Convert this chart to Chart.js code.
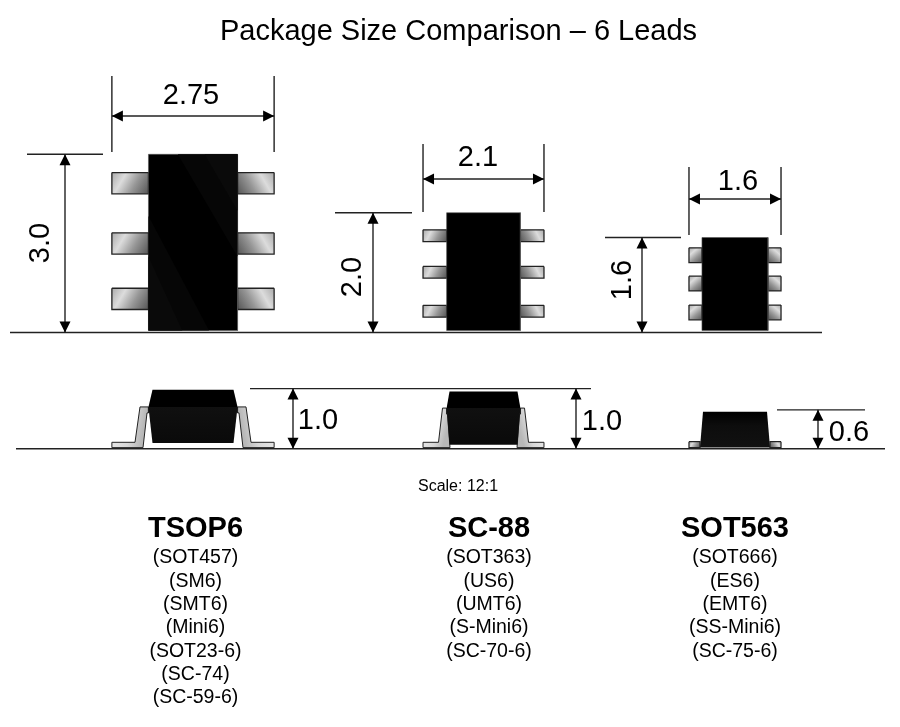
<!DOCTYPE html>
<html>
<head>
<meta charset="utf-8">
<title>Package Size Comparison</title>
<script src="https://cdn.jsdelivr.net/npm/chart.js@4/dist/chart.umd.min.js"></script>
<style>
  html, body { margin: 0; padding: 0; background: #fff; }
  canvas { display: block; }
</style>
</head>
<body>
<canvas id="chart" width="900" height="727"></canvas>
<script>
// Values, all in mm
const chartTitle = 'Package Size Comparison – 6 Leads';
const scaleNote = 'Scale: 12:1';
const packageNames = ['TSOP6', 'SC-88', 'SOT563'];
const tsop6Aliases = ['(SOT457)', '(SM6)', '(SMT6)', '(Mini6)', '(SOT23-6)', '(SC-74)', '(SC-59-6)'];
const sc88Aliases = ['(SOT363)', '(US6)', '(UMT6)', '(S-Mini6)', '(SC-70-6)'];
const sot563Aliases = ['(SOT666)', '(ES6)', '(EMT6)', '(SS-Mini6)', '(SC-75-6)'];
const widthLabels = ['2.75', '2.1', '1.6'];
const lengthLabels = ['3.0', '2.0', '1.6'];
const heightLabels = ['1.0', '1.0', '0.6'];
const leadSpan = [2.75, 2.05, 1.56];
const bodyLength = [3.02, 2.03, 1.61];
const bodyWidth = [1.51, 1.25, 1.12];
const seatedHeight = [1.02, 1.02, 0.66];
const leadWidth = [0.36, 0.2, 0.25];
const tsop6LeadCentres = [2.53, 1.51, 0.57];
const sc88LeadCentres = [1.64, 1.02, 0.36];
const sot563LeadCentres = [1.31, 0.83, 0.34];

const aliases = [tsop6Aliases, sc88Aliases, sot563Aliases];
const leadCentres = [tsop6LeadCentres, sc88LeadCentres, sot563LeadCentres];

// Page layout, in picture pixels
const PX_PER_MM = 59;
const TOP_BASE = 332.5;
const SIDE_BASE = 448.8;
const centreX = [193, 483.5, 735];
const widthDimY = [116, 179, 199];
const widthExt = [[76, 152], [144, 212], [167, 235]];
const lengthDimX = [65, 373, 642];
const lengthExt = [[27, 103], [335, 412], [605, 681]];
const heightDimX = [293, 576, 818];
const heightExt = [[250, 591], [250, 591], [777, 865]];
const widthLabelPos = [[191, 96], [478, 157.5], [738, 181.5]];
const lengthLabelPos = [[41, 243], [353, 277], [623, 280]];
const heightLabelPos = [[318, 420.5], [602, 421.5], [849, 432.5]];
const nameX = [195.5, 489, 735];

const INK = '#222';
const toX = (px) => px / PX_PER_MM;
const toY = (py) => (TOP_BASE - py) / PX_PER_MM;
const sideY = (mm) => toY(SIDE_BASE) + mm;
const mm = (px) => px / PX_PER_MM;

const datasets = [];

function addPoly(points, fill, stroke, width) {
  const closed = fill ? points.concat([points[0]]) : points;
  datasets.push({
    data: closed.map(([x, y]) => ({ x, y })),
    showLine: true,
    pointRadius: 0,
    tension: 0,
    fill: fill ? 'shape' : false,
    backgroundColor: fill || 'transparent',
    borderColor: stroke || 'transparent',
    borderWidth: stroke ? (width || 1) : 0,
  });
}

// Shaded metal of a lead: light near the outer top corner, dark toward the body
function leadGradient(x0, y0, x1, y1, stops) {
  return (ctx) => {
    const { x, y } = ctx.chart.scales;
    const px0 = x.getPixelForValue(x0);
    const py0 = y.getPixelForValue(y0);
    if (!Number.isFinite(px0) || !Number.isFinite(py0)) return stops[0][1]; // before first layout
    const g = ctx.chart.ctx.createLinearGradient(px0, py0, x.getPixelForValue(x1), y.getPixelForValue(y1));
    stops.forEach(([at, color]) => g.addColorStop(at, color));
    return g;
  };
}

const metalStops = [[0, '#aaaaaa'], [0.3, '#dcdcdc'], [0.62, '#969696'], [1, '#555555']];

function addArrowH(x, y, dir) {
  const len = mm(11), half = mm(5.5);
  addPoly([[x, y], [x + dir * len, y + half], [x + dir * len, y - half]], '#000');
}

function addArrowV(x, y, dir) {
  const len = mm(11), half = mm(5.5);
  addPoly([[x, y], [x + half, y + dir * len], [x - half, y + dir * len]], '#000');
}

function addTopView(i) {
  const cx = toX(centreX[i]);
  const bottom = mm(2);
  const top = bodyLength[i];
  const half = bodyWidth[i] / 2;
  const span = leadSpan[i] / 2;
  const w = leadWidth[i] / 2;

  leadCentres[i].forEach((c) => {
    const leftX = cx - span;
    const rightX = cx + span;
    addPoly([[leftX, c + w], [cx - half, c + w], [cx - half, c - w], [leftX, c - w]],
      leadGradient(leftX, c + w, cx - half, c - w, metalStops), INK, 1.3);
    addPoly([[rightX, c + w], [cx + half, c + w], [cx + half, c - w], [rightX, c - w]],
      leadGradient(rightX, c + w, cx + half, c - w, metalStops), INK, 1.3);
  });

  addPoly([[cx - half, top], [cx + half, top], [cx + half, bottom], [cx - half, bottom]], '#000', '#555', 0.6);

  // Faint sheen bands on the largest body
  if (i === 0) {
    const h = top - bottom, b = 2 * half, l = cx - half, r = cx + half;
    addPoly([[l + 0.33 * b, top], [r, top], [r, top - 0.58 * h]], '#060606');
    addPoly([[l + 0.63 * b, top], [r, top], [r, top - 0.32 * h]], '#0a0a0a');
    addPoly([[l, top - 0.35 * h], [l + 0.68 * b, bottom], [l, bottom]], '#060606');
    addPoly([[l, top - 0.58 * h], [l + 0.38 * b, bottom], [l, bottom]], '#0a0a0a');
  }

  // Width dimension
  const dy = toY(widthDimY[i]);
  addPoly([[cx - span, toY(widthExt[i][0])], [cx - span, toY(widthExt[i][1])]], null, INK, 1.4);
  addPoly([[cx + span, toY(widthExt[i][0])], [cx + span, toY(widthExt[i][1])]], null, INK, 1.4);
  addPoly([[cx - span, dy], [cx + span, dy]], null, INK, 1.4);
  addArrowH(cx - span, dy, 1);
  addArrowH(cx + span, dy, -1);

  // Length dimension
  const dx = toX(lengthDimX[i]);
  addPoly([[toX(lengthExt[i][0]), top], [toX(lengthExt[i][1]), top]], null, INK, 1.4);
  addPoly([[dx, 0], [dx, top]], null, INK, 1.4);
  addArrowV(dx, top, -1);
  addArrowV(dx, 0, 1);
}

// Gull-wing lead seen from the side; dir is -1 for the left lead, +1 for the right
function addGullWing(cx, span, dir, riserFoot, riserTop, innerFoot, innerTop, shoulderEnd, shoulder) {
  const base = sideY(0.02);
  const footTop = sideY(0.11);
  const s = sideY(shoulder);
  const pts = [
    [cx + dir * span, base], [cx + dir * span, footTop], [cx + dir * riserFoot, footTop],
    [cx + dir * riserTop, s], [cx + dir * shoulderEnd, s], [cx + dir * shoulderEnd, s - mm(6)],
    [cx + dir * innerTop, s - mm(6)], [cx + dir * innerFoot, base],
  ];
  addPoly(pts, leadGradient(cx + dir * span, footTop, cx + dir * riserTop, base, [[0, '#e6e6e6'], [0.55, '#d8d8d8'], [1, '#b8b8b8']]), INK, 1);
}

function addSideView(i) {
  const cx = toX(centreX[i]);
  const span = leadSpan[i] / 2;

  if (i < 2) {
    const top = i === 0 ? 1.0 : 0.97;
    const waist = i === 0 ? 0.71 : 0.69;
    const low = i === 0 ? 0.1 : 0.07;
    const halfTop = i === 0 ? mm(40.5) : mm(34);
    const halfWaist = bodyWidth[i] / 2;
    addGullWing(cx, span, -1, i === 0 ? mm(58) : mm(45), i === 0 ? mm(53) : mm(41),
      i === 0 ? mm(50) : mm(33.5), i === 0 ? mm(46) : mm(36), halfWaist, waist);
    addGullWing(cx, span, 1, i === 0 ? mm(58) : mm(45), i === 0 ? mm(53) : mm(41),
      i === 0 ? mm(50) : mm(33.5), i === 0 ? mm(46) : mm(36), halfWaist, waist);
    addPoly([[cx - halfWaist, sideY(waist)], [cx + halfWaist, sideY(waist)],
      [cx + halfTop, sideY(low)], [cx - halfTop, sideY(low)]],
      leadGradient(cx, sideY(waist), cx, sideY(low), [[0, '#101010'], [0.5, '#0d0d0d'], [1, '#0a0a0a']]));
    addPoly([[cx - halfTop, sideY(top)], [cx + halfTop, sideY(top)],
      [cx + halfWaist, sideY(waist)], [cx - halfWaist, sideY(waist)]], '#000');
  } else {
    const half = mm(35);
    const foot = sideY(0.12);
    const base = sideY(0.02);
    addPoly([[cx - span, foot], [cx - half, foot], [cx - half, base], [cx - span, base]],
      leadGradient(cx - span, foot, cx - half, base, metalStops), INK, 1.2);
    addPoly([[cx + span, foot], [cx + half, foot], [cx + half, base], [cx + span, base]],
      leadGradient(cx + span, foot, cx + half, base, metalStops), INK, 1.2);
    addPoly([[cx - mm(32), sideY(0.63)], [cx + mm(32), sideY(0.63)], [cx + half, sideY(0.02)], [cx - half, sideY(0.02)]],
      leadGradient(cx, sideY(0.63), cx, sideY(0.02), [[0, '#000'], [0.4, '#0d0d0d'], [1, '#111']]));
  }

  // Height dimension
  const dx = toX(heightDimX[i]);
  const top = sideY(seatedHeight[i]);
  addPoly([[dx, sideY(0)], [dx, top]], null, INK, 1.4);
  addArrowV(dx, top, -1);
  addArrowV(dx, sideY(0), 1);
}

// Seating lines
addPoly([[toX(10), 0], [toX(822), 0]], null, INK, 1.6);
addPoly([[toX(16), sideY(0)], [toX(885), sideY(0)]], null, INK, 1.6);
// Upper extension lines of the side views
addPoly([[toX(heightExt[0][0]), sideY(seatedHeight[0])], [toX(heightExt[0][1]), sideY(seatedHeight[1])]], null, INK, 1.4);
addPoly([[toX(heightExt[2][0]), sideY(seatedHeight[2])], [toX(heightExt[2][1]), sideY(seatedHeight[2])]], null, INK, 1.4);

packageNames.forEach((_, i) => {
  addTopView(i);
  addSideView(i);
});

// Later datasets paint on top, as listed
datasets.forEach((d, i) => { d.order = -i; });

const FONT = '"Liberation Sans", Arial, sans-serif';

const textPlugin = {
  id: 'diagramText',
  afterDraw(chart) {
    const { ctx } = chart;
    const put = (text, px, py, font, rotate) => {
      ctx.save();
      ctx.translate(px, py);
      if (rotate) ctx.rotate(-Math.PI / 2);
      ctx.font = font;
      ctx.fillStyle = '#000';
      ctx.textAlign = 'center';
      ctx.textBaseline = 'middle';
      ctx.fillText(text, 0, 0);
      ctx.restore();
    };

    put(chartTitle, 458.5, 32, `29px ${FONT}`);
    put(scaleNote, 458, 487, `16px ${FONT}`);

    packageNames.forEach((name, i) => {
      put(widthLabels[i], widthLabelPos[i][0], widthLabelPos[i][1], `29px ${FONT}`);
      put(lengthLabels[i], lengthLabelPos[i][0], lengthLabelPos[i][1], `29px ${FONT}`, true);
      put(heightLabels[i], heightLabelPos[i][0], heightLabelPos[i][1], `29px ${FONT}`);
      put(name, nameX[i], 528.5, `bold 29px ${FONT}`);
      aliases[i].forEach((a, j) => {
        put(a, nameX[i], 558 + j * 23.3, `19.5px ${FONT}`);
      });
    });
  },
};

new Chart(document.getElementById('chart'), {
  type: 'scatter',
  data: { datasets },
  options: {
    responsive: false,
    devicePixelRatio: 1,
    animation: false,
    layout: { padding: 0 },
    plugins: { legend: { display: false }, tooltip: { enabled: false } },
    scales: {
      x: { type: 'linear', display: false, min: 0, max: 900 / PX_PER_MM },
      y: { type: 'linear', display: false, min: toY(727), max: toY(0) },
    },
  },
  plugins: [textPlugin],
});
</script>
</body>
</html>
